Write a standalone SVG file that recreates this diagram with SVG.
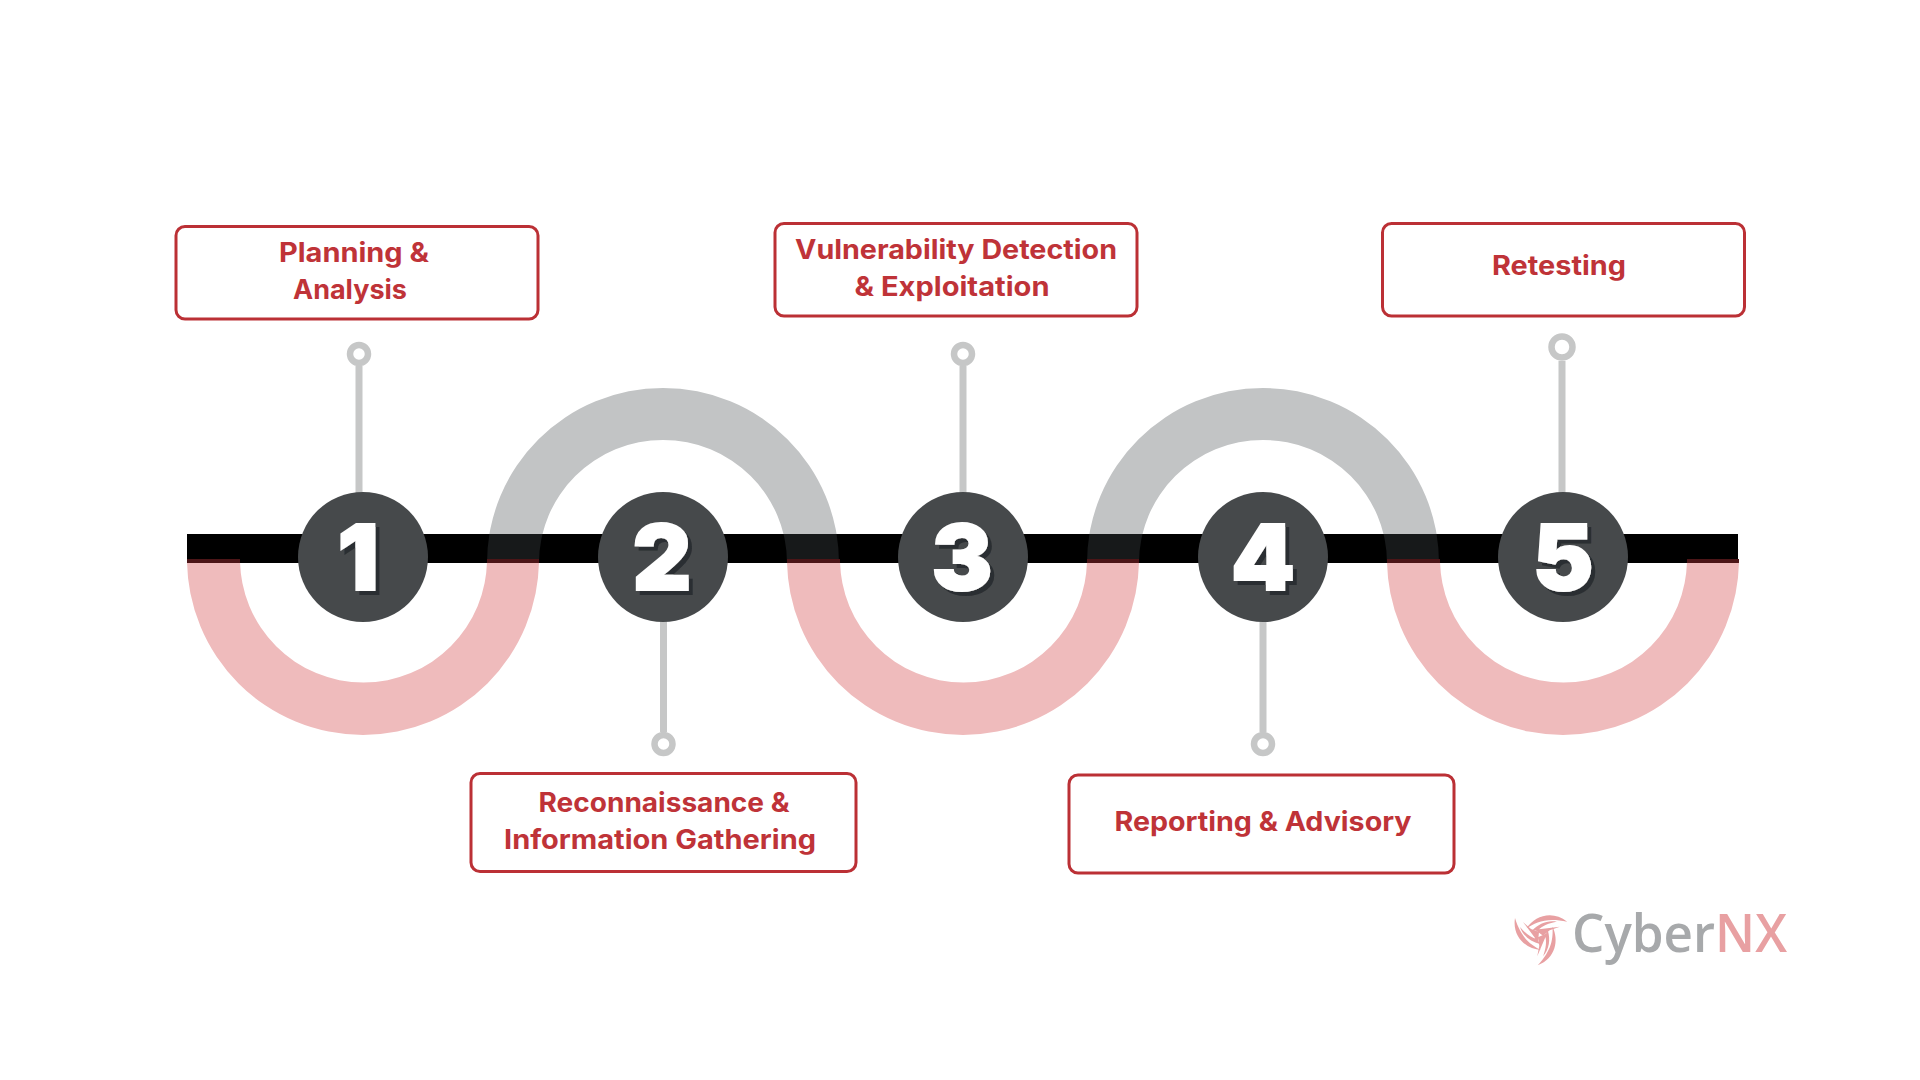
<svg xmlns="http://www.w3.org/2000/svg" width="1920" height="1080" viewBox="0 0 1920 1080">
<style>
.box{fill:#fff;stroke:#bb3035;stroke-width:3}
.lbl{font-family:Inter,"Liberation Sans",sans-serif;font-weight:700;font-size:26.500px;fill:#bf3338;text-anchor:middle}
.stem{stroke:#c6c7c7;stroke-width:7;fill:none}
.ring{fill:#fff;stroke:#c6c7c7;stroke-width:6.500}
.num{font-family:Inter,"Liberation Sans",sans-serif;font-weight:900;font-size:91px;fill:#fff;stroke:#fff;stroke-width:2;text-anchor:middle;filter:url(#sh)}
.disc{fill:#46494b}
.logo{font-family:"Open Sans","Liberation Sans",sans-serif;font-size:52px;font-weight:600}
</style>
<defs>
<filter id="sh" x="-20%" y="-20%" width="150%" height="150%"><feDropShadow dx="4" dy="4" stdDeviation="0" flood-color="#2c2f31"/></filter>
<clipPath id="aboveBar"><rect x="0" y="0" width="1920" height="534"/></clipPath>
<clipPath id="inBar"><rect x="0" y="534" width="1920" height="29"/></clipPath>
<clipPath id="belowBar"><rect x="0" y="563" width="1920" height="517"/></clipPath>
<path id="arcUp" d="M487 563A176 175 0 0 1 839 563H787A124 123 0 0 0 539 563Z"/>
<path id="arcDown" d="M187 559A176 176 0 0 0 539 559H487A123 123 0 0 1 240 559Z"/>
<path id="blade" d="M-25-17C-28 2-14 14 1 15C-9 10-19 3-25-17ZM-20-8C-17 1-9 7 0 9L-3 4C-9 3-15-2-20-8ZM-17-13L-2 7L-1-3L-9-6Z"/>
<g id="upper"><use href="#arcUp" fill="#c2c4c5" clip-path="url(#aboveBar)"/><use href="#arcUp" fill="#17191a" clip-path="url(#inBar)"/></g>
<g id="lower"><use href="#arcDown" fill="#efbbbc" clip-path="url(#belowBar)"/><use href="#arcDown" fill="#4c1517" clip-path="url(#inBar)"/></g>
</defs>
<rect width="1920" height="1080" fill="#fff"/>
<g id="connectors">
<rect x="187" y="534" width="1551" height="29" fill="#000"/>
<use href="#upper"/>
<use href="#upper" x="600"/>
<use href="#lower"/>
<use href="#lower" x="600"/>
<use href="#lower" x="1200"/>
<path class="stem" d="M359 366V495M663.500 620V732M963 366V495M1263 620V732M1562 361V495"/>
<circle class="ring" cx="359" cy="354" r="9"/>
<circle class="ring" cx="663.500" cy="744" r="9"/>
<circle class="ring" cx="963" cy="354" r="9"/>
<circle class="ring" cx="1263" cy="744" r="9"/>
<circle class="ring" cx="1562" cy="347" r="10.500"/>
</g>
<g id="node-1"><circle class="disc" cx="363" cy="557" r="65"/><text class="num" x="358" y="590">1</text>
<rect class="box" x="176" y="226.500" width="362" height="92.500" rx="9"/><text class="lbl" x="354" y="262" textLength="150" lengthAdjust="spacingAndGlyphs">Planning &amp;</text><text class="lbl" x="350" y="299" textLength="114" lengthAdjust="spacingAndGlyphs">Analysis</text></g>
<g id="node-2"><circle class="disc" cx="663" cy="557" r="65"/><text class="num" x="662" y="590">2</text>
<rect class="box" x="471" y="773.500" width="385" height="98" rx="9"/><text class="lbl" x="664" y="812" textLength="251" lengthAdjust="spacingAndGlyphs">Reconnaissance &amp;</text><text class="lbl" x="660" y="849" textLength="312" lengthAdjust="spacingAndGlyphs">Information Gathering</text></g>
<g id="node-3"><circle class="disc" cx="963" cy="557" r="65"/><text class="num" x="962" y="590">3</text>
<rect class="box" x="775" y="223.500" width="362" height="92.500" rx="9"/><text class="lbl" x="956" y="259" textLength="322" lengthAdjust="spacingAndGlyphs">Vulnerability Detection</text><text class="lbl" x="952" y="296" textLength="195" lengthAdjust="spacingAndGlyphs">&amp; Exploitation</text></g>
<g id="node-4"><circle class="disc" cx="1263" cy="557" r="65"/><text class="num" x="1263" y="590">4</text>
<rect class="box" x="1069" y="775" width="385" height="98" rx="9"/><text class="lbl" x="1263" y="831" textLength="297" lengthAdjust="spacingAndGlyphs">Reporting &amp; Advisory</text></g>
<g id="node-5"><circle class="disc" cx="1563" cy="557" r="65"/><text class="num" x="1563" y="590">5</text>
<rect class="box" x="1382.500" y="223.500" width="362" height="92.500" rx="9"/><text class="lbl" x="1559" y="275" textLength="134" lengthAdjust="spacingAndGlyphs">Retesting</text></g>
<g id="logo">
<g fill="#e8a0a2" transform="translate(1540 935)"><use href="#blade"/><use href="#blade" transform="rotate(120)"/><use href="#blade" transform="rotate(240)"/></g>
<text class="logo" x="1572" y="952" textLength="215" lengthAdjust="spacingAndGlyphs"><tspan fill="#a7a9ab">Cyber</tspan><tspan fill="#e8a0a2">NX</tspan></text>
</g>
</svg>
